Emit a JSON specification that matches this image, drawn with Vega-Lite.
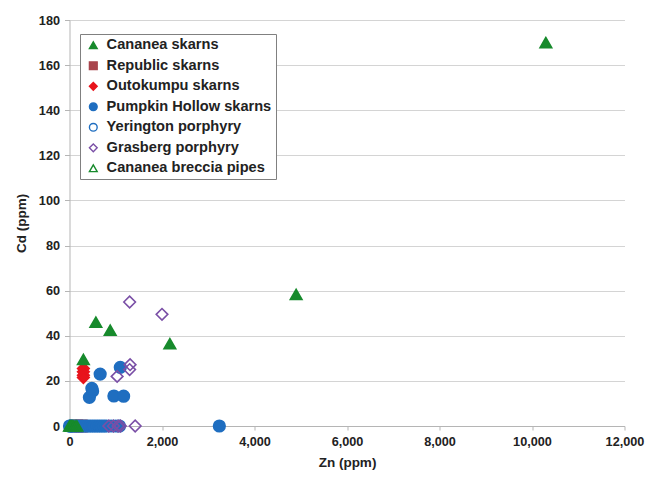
{
  "$schema": "https://vega.github.io/schema/vega-lite/v6.json",
  "width": 555,
  "height": 406,
  "autosize": "none",
  "padding": {"left": 69.5, "top": 20, "right": 32.5, "bottom": 55},
  "background": "white",
  "config": {
    "view": {"stroke": null},
    "font": "Liberation Sans",
    "axis": {
      "labelFont": "Liberation Sans",
      "titleFont": "Liberation Sans",
      "labelFontWeight": "bold",
      "titleFontWeight": "bold",
      "labelColor": "#222",
      "titleColor": "#222",
      "labelFontSize": 12.7,
      "titleFontSize": 13.5,
      "domainColor": "#b5b5b5",
      "tickColor": "#b5b5b5",
      "gridColor": "#d4d4d4",
      "tickSize": 4
    },
    "legend": {
      "orient": "none",
      "legendX": 10.5,
      "legendY": 14,
      "padding": 4,
      "strokeColor": "#808080",
      "fillColor": "white",
      "labelFont": "Liberation Sans",
      "labelFontWeight": "bold",
      "labelFontSize": 14.6,
      "labelColor": "#222",
      "symbolSize": 60,
      "symbolStrokeWidth": 1.4,
      "symbolOffset": 2,
      "rowPadding": 5.5,
      "labelOffset": 6,
      "labelLimit": 300
    }
  },
  "data": {
    "values": [
      {"series": "Republic skarns", "zn": 150, "cd": 0},
      {"series": "Republic skarns", "zn": 250, "cd": 0},
      {"series": "Pumpkin Hollow skarns", "zn": 20, "cd": 0},
      {"series": "Pumpkin Hollow skarns", "zn": 60, "cd": 0},
      {"series": "Pumpkin Hollow skarns", "zn": 100, "cd": 0},
      {"series": "Pumpkin Hollow skarns", "zn": 150, "cd": 0},
      {"series": "Pumpkin Hollow skarns", "zn": 200, "cd": 0},
      {"series": "Pumpkin Hollow skarns", "zn": 250, "cd": 0},
      {"series": "Pumpkin Hollow skarns", "zn": 300, "cd": 0},
      {"series": "Pumpkin Hollow skarns", "zn": 350, "cd": 0},
      {"series": "Pumpkin Hollow skarns", "zn": 400, "cd": 0},
      {"series": "Pumpkin Hollow skarns", "zn": 450, "cd": 0},
      {"series": "Pumpkin Hollow skarns", "zn": 500, "cd": 0},
      {"series": "Pumpkin Hollow skarns", "zn": 550, "cd": 0},
      {"series": "Pumpkin Hollow skarns", "zn": 600, "cd": 0},
      {"series": "Pumpkin Hollow skarns", "zn": 650, "cd": 0},
      {"series": "Pumpkin Hollow skarns", "zn": 700, "cd": 0},
      {"series": "Pumpkin Hollow skarns", "zn": 750, "cd": 0},
      {"series": "Pumpkin Hollow skarns", "zn": 800, "cd": 0},
      {"series": "Pumpkin Hollow skarns", "zn": 900, "cd": 0},
      {"series": "Pumpkin Hollow skarns", "zn": 1000, "cd": 0},
      {"series": "Pumpkin Hollow skarns", "zn": 1080, "cd": 0},
      {"series": "Pumpkin Hollow skarns", "zn": 3240, "cd": 0},
      {"series": "Pumpkin Hollow skarns", "zn": 430, "cd": 12.7},
      {"series": "Pumpkin Hollow skarns", "zn": 500, "cd": 15.5},
      {"series": "Pumpkin Hollow skarns", "zn": 483, "cd": 16.7},
      {"series": "Pumpkin Hollow skarns", "zn": 663, "cd": 23},
      {"series": "Pumpkin Hollow skarns", "zn": 1098, "cd": 26},
      {"series": "Pumpkin Hollow skarns", "zn": 960, "cd": 13.3},
      {"series": "Pumpkin Hollow skarns", "zn": 1170, "cd": 13.2},
      {"series": "Yerington porphyry", "zn": 0, "cd": 0},
      {"series": "Yerington porphyry", "zn": 30, "cd": 0},
      {"series": "Outokumpu skarns", "zn": 300, "cd": 25.5},
      {"series": "Outokumpu skarns", "zn": 300, "cd": 24},
      {"series": "Outokumpu skarns", "zn": 300, "cd": 22.5},
      {"series": "Outokumpu skarns", "zn": 300, "cd": 21.5},
      {"series": "Grasberg porphyry", "zn": 1300, "cd": 55},
      {"series": "Grasberg porphyry", "zn": 2000, "cd": 49.5},
      {"series": "Grasberg porphyry", "zn": 1310, "cd": 27.2},
      {"series": "Grasberg porphyry", "zn": 1300, "cd": 25},
      {"series": "Grasberg porphyry", "zn": 1030, "cd": 22},
      {"series": "Grasberg porphyry", "zn": 850, "cd": 0},
      {"series": "Grasberg porphyry", "zn": 950, "cd": 0},
      {"series": "Grasberg porphyry", "zn": 1050, "cd": 0},
      {"series": "Grasberg porphyry", "zn": 1100, "cd": 0},
      {"series": "Grasberg porphyry", "zn": 1420, "cd": 0},
      {"series": "Cananea skarns", "zn": 10300, "cd": 170},
      {"series": "Cananea skarns", "zn": 4900, "cd": 58.3},
      {"series": "Cananea skarns", "zn": 570, "cd": 46},
      {"series": "Cananea skarns", "zn": 880, "cd": 42.5},
      {"series": "Cananea skarns", "zn": 2170, "cd": 36.5},
      {"series": "Cananea skarns", "zn": 300, "cd": 29.5},
      {"series": "Cananea skarns", "zn": 0, "cd": 0},
      {"series": "Cananea skarns", "zn": 40, "cd": 0},
      {"series": "Cananea skarns", "zn": 80, "cd": 0},
      {"series": "Cananea skarns", "zn": 120, "cd": 0},
      {"series": "Cananea skarns", "zn": 160, "cd": 0},
      {"series": "Cananea breccia pipes", "zn": 20, "cd": 0},
      {"series": "Cananea breccia pipes", "zn": 60, "cd": 0}
    ]
  },
  "mark": {"type": "point", "filled": false, "strokeWidth": 1.6, "opacity": 1, "size": 135},
  "encoding": {
    "x": {
      "field": "zn", "type": "quantitative",
      "title": "Zn (ppm)",
      "scale": {"domain": [0, 12000], "nice": false, "zero": true},
      "axis": {"values": [0, 2000, 4000, 6000, 8000, 10000, 12000], "format": ",d", "grid": false, "labelPadding": 5, "titlePadding": 8, "labelFlush": false}
    },
    "y": {
      "field": "cd", "type": "quantitative",
      "title": "Cd (ppm)",
      "scale": {"domain": [0, 180], "nice": false},
      "axis": {"values": [0, 20, 40, 60, 80, 100, 120, 140, 160, 180], "grid": true, "tickSize": 5, "labelPadding": 5, "titlePadding": 10}
    },
    "shape": {
      "field": "series", "type": "nominal",
      "title": null,
      "scale": {
        "domain": ["Cananea skarns", "Republic skarns", "Outokumpu skarns", "Pumpkin Hollow skarns", "Yerington porphyry", "Grasberg porphyry", "Cananea breccia pipes"],
        "range": ["triangle-up", "square", "diamond", "circle", "circle", "diamond", "triangle-up"]
      }
    },
    "fill": {
      "field": "series", "type": "nominal",
      "title": null,
      "scale": {
        "domain": ["Cananea skarns", "Republic skarns", "Outokumpu skarns", "Pumpkin Hollow skarns", "Yerington porphyry", "Grasberg porphyry", "Cananea breccia pipes"],
        "range": ["#178a2c", "#a8444c", "#e8141c", "#1f6ec0", "transparent", "transparent", "transparent"]
      }
    },
    "stroke": {
      "field": "series", "type": "nominal",
      "title": null,
      "scale": {
        "domain": ["Cananea skarns", "Republic skarns", "Outokumpu skarns", "Pumpkin Hollow skarns", "Yerington porphyry", "Grasberg porphyry", "Cananea breccia pipes"],
        "range": ["#178a2c", "#a8444c", "#e8141c", "#1f6ec0", "#1f6ec0", "#7a4fa6", "#178a2c"]
      }
    }
  }
}
